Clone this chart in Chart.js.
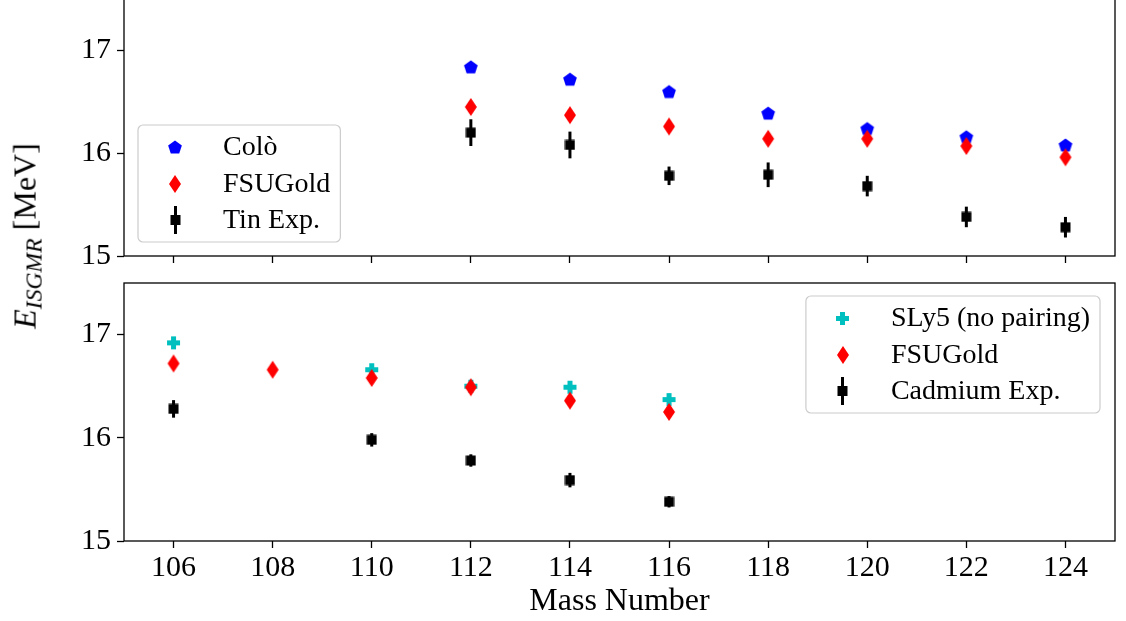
<!DOCTYPE html>
<html>
<head>
<meta charset="utf-8">
<script src="https://cdn.jsdelivr.net/npm/chart.js@4.4.1/dist/chart.umd.min.js"></script>
<style>
    body { margin: 0; background: #fff; width: 1126px; height: 621px; overflow: hidden; position: relative; }
    .panel { position: absolute; left: 0; }
    #ylabel {
        position: absolute; left: 27px; top: 236px;
        transform: translate(-50%, -50%) rotate(-90deg);
        font-family: "Liberation Serif", serif; font-size: 32px; white-space: nowrap; color: #000;
    }
    #ylabel sub { font-size: 0.74em; vertical-align: -0.25em; }
</style>
</head>
<body>
<div class="panel" style="top:-6px"><canvas id="tinChart" width="1126" height="307"></canvas></div>
<div class="panel" style="top:270px"><canvas id="cdChart" width="1126" height="351"></canvas></div>
<div id="ylabel"><i>E</i><sub><i>ISGMR</i></sub> [MeV]</div>
<script>
// axis ticks
const xTicks = [106, 108, 110, 112, 114, 116, 118, 120, 122, 124];
const yTicks = [15, 16, 17];

// tin (top panel)
const tinMass = [112, 114, 116, 118, 120, 122, 124];
const coloTin = [16.84, 16.72, 16.60, 16.39, 16.24, 16.16, 16.08];
const fsuTin = [16.45, 16.37, 16.26, 16.14, 16.14, 16.07, 15.96];
const tinExp = [16.20, 16.08, 15.78, 15.79, 15.68, 15.38, 15.28];
const tinErr = [0.13, 0.13, 0.09, 0.12, 0.10, 0.10, 0.10];

// cadmium (bottom panel)
const sly5Mass = [106, 110, 112, 114, 116];
const sly5Cd = [16.92, 16.66, 16.50, 16.49, 16.37];
const fsuCdMass = [106, 108, 110, 112, 114, 116];
const fsuCd = [16.72, 16.66, 16.58, 16.49, 16.36, 16.25];
const cdExpMass = [106, 110, 112, 114, 116];
const cdExp = [16.28, 15.98, 15.78, 15.59, 15.38];
const cdErr = [0.085, 0.065, 0.06, 0.07, 0.055];

const SERIF = '"Liberation Serif", serif';
Chart.defaults.color = '#000';
Chart.defaults.font.family = SERIF;

// marker images
function marker(w, h, draw) {
    const c = document.createElement('canvas');
    c.width = w; c.height = h;
    draw(c.getContext('2d'), w, h);
    return c;
}
const pentagon = marker(16, 16, (ctx) => {
    ctx.fillStyle = '#0000ff';
    ctx.beginPath();
    for (let k = 0; k < 5; k++) {
        const a = -Math.PI / 2 + k * 2 * Math.PI / 5;
        ctx.lineTo(8 + 7.2 * Math.cos(a), 8.6 + 7.2 * Math.sin(a));
    }
    ctx.closePath(); ctx.fill();
});
const diamond = marker(14, 20, (ctx) => {
    ctx.fillStyle = '#ff0000';
    ctx.beginPath();
    ctx.moveTo(7, 1); ctx.lineTo(13, 10); ctx.lineTo(7, 19); ctx.lineTo(1, 10);
    ctx.closePath(); ctx.fill();
});
const plus = marker(15, 15, (ctx) => {
    ctx.fillStyle = '#00bfbf';
    ctx.fillRect(5, 1, 5, 13);
    ctx.fillRect(1, 5, 13, 5);
});
const square = marker(11, 11, (ctx) => {
    ctx.fillStyle = '#000';
    ctx.fillRect(0.5, 0.5, 10, 10);
});
const errMarker = marker(11, 28, (ctx) => {
    ctx.fillStyle = '#000';
    ctx.fillRect(4, 0, 3, 28);
    ctx.fillRect(0.5, 9, 10, 10);
});

function points(xs, ys) {
    return xs.map((x, i) => ({ x: x, y: ys[i] }));
}

const framePlugin = {
    id: 'frame',
    afterDraw(chart) {
        const a = chart.chartArea, ctx = chart.ctx;
        ctx.save();
        ctx.strokeStyle = '#000';
        ctx.lineWidth = 1.3;
        ctx.strokeRect(a.left, a.top, a.right - a.left, a.bottom - a.top);
        ctx.restore();
    }
};

const errorBarPlugin = {
    id: 'errorBars',
    beforeDatasetsDraw(chart) {
        const ctx = chart.ctx, ys = chart.scales.y;
        ctx.save();
        ctx.strokeStyle = '#000';
        ctx.lineWidth = 3;
        chart.data.datasets.forEach((ds, i) => {
            if (!ds.yErr) return;
            chart.getDatasetMeta(i).data.forEach((pt, j) => {
                const v = ds.data[j].y, e = ds.yErr[j];
                ctx.beginPath();
                ctx.moveTo(pt.x, ys.getPixelForValue(v - e));
                ctx.lineTo(pt.x, ys.getPixelForValue(v + e));
                ctx.stroke();
            });
        });
        ctx.restore();
    }
};

// legend box drawn inside the plot area
function boxLegend(items, corner) {
    return {
        id: 'boxLegend',
        afterDraw(chart) {
            const a = chart.chartArea, ctx = chart.ctx;
            ctx.save();
            ctx.font = '28px ' + SERIF;
            const textW = Math.max(...items.map(it => ctx.measureText(it.label).width));
            const rowH = 36.5, padX = 37, gap = 48, padY = 22;
            const w = padX + gap + textW + 10;
            const h = padY * 2 + rowH * (items.length - 1);
            const left = corner === 'bottomleft' ? a.left + 14 : a.right - 15 - w;
            const top = corner === 'bottomleft' ? a.bottom - 14 - h : a.top + 13;
            ctx.beginPath();
            ctx.roundRect(left, top, w, h, 5);
            ctx.fillStyle = 'rgba(255,255,255,0.8)';
            ctx.fill();
            ctx.strokeStyle = '#cccccc';
            ctx.lineWidth = 1.2;
            ctx.stroke();
            ctx.fillStyle = '#000';
            ctx.textBaseline = 'middle';
            items.forEach((it, i) => {
                const cy = top + padY + i * rowH;
                const img = it.marker;
                ctx.drawImage(img, Math.round(left + padX - img.width / 2), Math.round(cy - img.height / 2));
                ctx.fillText(it.label, left + padX + gap, cy + 1);
            });
            ctx.restore();
        }
    };
}

function panelOptions(top, xAxisHeight, showLabels) {
    return {
        responsive: false,
        animation: false,
        layout: { padding: { top: top, right: 11, left: 0, bottom: 0 } },
        plugins: { legend: { display: false }, tooltip: { enabled: false } },
        scales: {
            x: {
                type: 'linear', min: 105, max: 125,
                afterBuildTicks: (s) => { s.ticks = xTicks.map(v => ({ value: v })); },
                afterFit: (s) => { s.height = xAxisHeight; s.paddingLeft = 0; s.paddingRight = 0; },
                grid: { drawOnChartArea: false, drawTicks: true, tickLength: 7, tickWidth: 1.3, color: '#000' },
                border: { display: false },
                ticks: { display: showLabels, padding: 2, font: { size: 30 }, maxRotation: 0, autoSkip: false },
                title: {
                    display: showLabels, text: 'Mass Number',
                    font: { size: 32, lineHeight: 1.2 }, padding: { top: 0, bottom: 0 }
                }
            },
            y: {
                min: 15, max: 17.5,
                afterBuildTicks: (s) => { s.ticks = yTicks.map(v => ({ value: v })); },
                afterFit: (s) => { s.width = 124; s.paddingTop = 0; s.paddingBottom = 0; },
                grid: { drawOnChartArea: false, drawTicks: true, tickLength: 7, tickWidth: 1.3, color: '#000' },
                border: { display: false },
                ticks: { padding: 6, font: { size: 30 } }
            }
        }
    };
}

new Chart(document.getElementById('tinChart'), {
    type: 'scatter',
    data: {
        datasets: [
            { label: 'Colò', data: points(tinMass, coloTin), pointStyle: pentagon, order: 2 },
            { label: 'FSUGold', data: points(tinMass, fsuTin), pointStyle: diamond, order: 1 },
            { label: 'Tin Exp.', data: points(tinMass, tinExp), pointStyle: square, yErr: tinErr, order: 0 }
        ]
    },
    options: panelOptions(0, 45, false),
    plugins: [errorBarPlugin, framePlugin, boxLegend([
        { label: 'Colò', marker: pentagon },
        { label: 'FSUGold', marker: diamond },
        { label: 'Tin Exp.', marker: errMarker }
    ], 'bottomleft')]
});

new Chart(document.getElementById('cdChart'), {
    type: 'scatter',
    data: {
        datasets: [
            { label: 'SLy5 (no pairing)', data: points(sly5Mass, sly5Cd), pointStyle: plus, order: 2 },
            { label: 'FSUGold', data: points(fsuCdMass, fsuCd), pointStyle: diamond, order: 1 },
            { label: 'Cadmium Exp.', data: points(cdExpMass, cdExp), pointStyle: square, yErr: cdErr, order: 0 }
        ]
    },
    options: panelOptions(13, 80, true),
    plugins: [errorBarPlugin, framePlugin, boxLegend([
        { label: 'SLy5 (no pairing)', marker: plus },
        { label: 'FSUGold', marker: diamond },
        { label: 'Cadmium Exp.', marker: errMarker }
    ], 'topright')]
});
</script>
</body>
</html>
